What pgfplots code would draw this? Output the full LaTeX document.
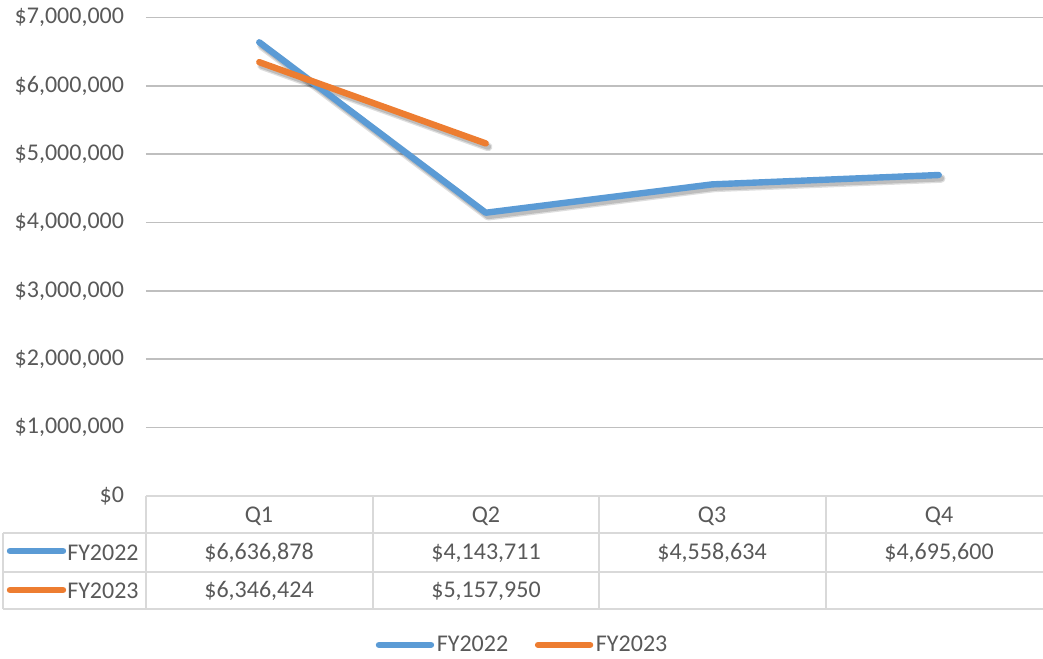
\documentclass[border=0pt]{standalone}
\usepackage{pgfplots}
\pgfplotsset{compat=1.18}
\usepackage{fontspec}
\setmainfont{Carlito}
\definecolor{txt}{HTML}{595959}
\definecolor{grid}{HTML}{D9D9D9}
\definecolor{sblue}{HTML}{5B9BD5}
\definecolor{sorange}{HTML}{ED7D31}
\pgfplotsset{
  leg/.style={legend image code/.code={\draw[##1,line width=4.8pt,line cap=round] (0pt,0pt) -- (39pt,0pt);}},
}
\begin{document}
\begin{tikzpicture}
\begin{axis}[
  at={(109.5pt,-372pt)}, anchor=south west,
  scale only axis, width=679.5pt, height=358.9pt,
  xmin=0, xmax=4, ymin=0, ymax=7000000,
  axis line style={draw=none},
  xtick=\empty,
  scaled y ticks=false,
  ytick={0,1000000,2000000,3000000,4000000,5000000,6000000,7000000},
  yticklabels={{\$0},{\$1,000,000},{\$2,000,000},{\$3,000,000},{\$4,000,000},{\$5,000,000},{\$6,000,000},{\$7,000,000}},
  yticklabel style={font=\fontsize{18}{21}\selectfont, text=txt, xshift=-13pt},
  major tick length=0pt,
  ymajorgrids, grid style={grid, line width=1.2pt},
  clip=false,
  legend columns=2,
  legend style={at={(0.416,-0.311)}, anchor=center, draw=none, fill=none,
    font=\fontsize{18}{21}\selectfont, text=txt,
    /tikz/every even column/.append style={column sep=18pt}},
  legend cell align=left,
  leg,
]
\addplot[forget plot, black, opacity=0.13, line width=6.5pt, line cap=round, line join=round, transform canvas={xshift=1.8pt,yshift=-2.6pt}] coordinates {(0.5,6636878) (1.5,4143711) (2.5,4558634) (3.5,4695600)};
\addplot[forget plot, black, opacity=0.13, line width=6.5pt, line cap=round, line join=round, transform canvas={xshift=1.8pt,yshift=-2.6pt}] coordinates {(0.5,6346424) (1.5,5157950)};
\addplot[forget plot, black, opacity=0.15, line width=4.5pt, line cap=round, line join=round, transform canvas={xshift=1.8pt,yshift=-2.6pt}] coordinates {(0.5,6636878) (1.5,4143711) (2.5,4558634) (3.5,4695600)};
\addplot[forget plot, black, opacity=0.15, line width=4.5pt, line cap=round, line join=round, transform canvas={xshift=1.8pt,yshift=-2.6pt}] coordinates {(0.5,6346424) (1.5,5157950)};
\addplot[sblue, line width=4.8pt, line cap=round, line join=round] coordinates {(0.5,6636878) (1.5,4143711) (2.5,4558634) (3.5,4695600)};
\addplot[sorange, line width=4.8pt, line cap=round, line join=round] coordinates {(0.5,6346424) (1.5,5157950)};
\legend{FY2022,FY2023}
\end{axis}
\begin{scope}[x=0.75pt,y=-0.75pt]
\draw[grid, line width=1.5pt] (146,496) -- (1060,496);
\draw[grid, line width=1.5pt] (3,533) -- (1060,533);
\draw[grid, line width=1.5pt] (3,572) -- (1060,572);
\draw[grid, line width=1.5pt] (3,609) -- (1060,609);
\draw[grid, line width=1.5pt] (3,533) -- (3,609);
\foreach \x in {146,372.5,599,826} {\draw[grid, line width=1.5pt] (\x,496) -- (\x,609);}
\begin{scope}[every node/.style={font=\fontsize{18}{21}\selectfont, text=txt, inner sep=0pt}]
\node at (259,516) {Q1};
\node at (486,516) {Q2};
\node at (712,516) {Q3};
\node at (939,516) {Q4};
\node at (259,553) {\$6,636,878};
\node at (486,553) {\$4,143,711};
\node at (712,553) {\$4,558,634};
\node at (939,553) {\$4,695,600};
\node at (259,591) {\$6,346,424};
\node at (486,591) {\$5,157,950};
\draw[sblue, line width=4.8pt, line cap=round] (10,551) -- (63,551);
\draw[sorange, line width=4.8pt, line cap=round] (10,590) -- (63,590);
\node[anchor=west] at (67,553) {FY2022};
\node[anchor=west] at (67,591) {FY2023};
\end{scope}
\pgfresetboundingbox
\useasboundingbox (0,0) rectangle (1043,658);
\end{scope}
\end{tikzpicture}
\end{document}
